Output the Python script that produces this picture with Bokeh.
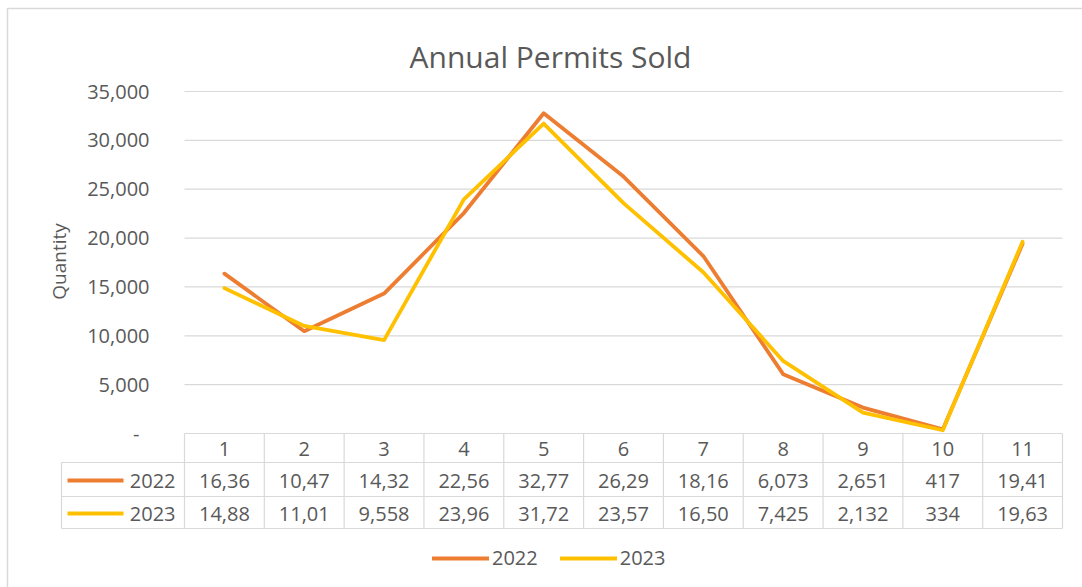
import math
from bokeh.plotting import figure
from bokeh.models import Range1d, Legend, LegendItem
from bokeh.core.properties import value
from bokeh.embed import file_html
from bokeh.resources import INLINE

# ---------------- data ----------------
categories = [1, 2, 3, 4, 5, 6, 7, 8, 9, 10, 11]
series_names = ["2022", "2023"]
permits_2022 = [16360, 10470, 14320, 22560, 32770, 26290, 18160, 6073, 2651, 417, 19410]
permits_2023 = [14880, 11010, 9558, 23960, 31720, 23570, 16500, 7425, 2132, 334, 19630]
y_ticks = [0, 5000, 10000, 15000, 20000, 25000, 30000, 35000]
title_text = "Annual Permits Sold"
y_title = "Quantity"

# ---------------- layout / style ----------------
W, H = 1082, 587
PLOT_LEFT, PLOT_RIGHT = 184, 1062      # px of plot area / table columns
PLOT_TOP, PLOT_BOTTOM = 91, 433        # px of top tick and zero
ROW_TOP = [433, 462, 496, 528]         # table row borders (px)
TABLE_LEFT = 61
FONT = value("Open Sans")
TXT = "#595959"
GRID = "#d9d9d9"
TABLE_LINE = "#d9d9d9"
COLORS = ["#ED7D31", "#FFC000"]
FS = "20px"

n = len(categories)
col_w = (PLOT_RIGHT - PLOT_LEFT) / n
x_start = 0.5 - PLOT_LEFT / col_w
x_end = 0.5 + (W - PLOT_LEFT) / col_w
upp = y_ticks[-1] / (PLOT_BOTTOM - PLOT_TOP)
y_end = PLOT_BOTTOM * upp
y_start = -(H - PLOT_BOTTOM) * upp


def px_to_x(px):
    return x_start + px / col_w


p = figure(width=W, height=H,
           x_range=Range1d(x_start, x_end), y_range=Range1d(y_start, y_end),
           x_axis_location=None, y_axis_location=None,
           output_backend="svg", toolbar_location=None, tools="",
           min_border=0)
p.outline_line_color = None
p.xgrid.grid_line_color = None
p.ygrid.grid_line_color = None
p.background_fill_color = "white"
p.border_fill_color = "white"
p.extra_x_ranges = {"px": Range1d(0, W)}
p.extra_y_ranges = {"px": Range1d(H, 0)}

# outer chart border
p.quad(left=[7], right=[W + 20], top=[8], bottom=[H + 20],
       fill_color=None, line_color=GRID, line_width=1.5,
       x_range_name="px", y_range_name="px")

# title
p.text(x=[550], y=[56], text=[title_text], text_font=FONT, text_font_size="30px",
       text_color=TXT, text_align="center", text_baseline="alphabetic",
       x_range_name="px", y_range_name="px")

# gridlines (non-zero ticks)
gt = [t for t in y_ticks if t > 0]
p.segment(x0=[0.5] * len(gt), x1=[n + 0.5] * len(gt), y0=gt, y1=gt,
          line_color=GRID, line_width=1.2)

# y tick labels
tick_text = [f"{t:,}" if t else "-" for t in y_ticks]
tick_x = [149 if t else 139 for t in y_ticks]
p.text(x=tick_x, y=y_ticks, text=tick_text, text_font=FONT, text_font_size=FS,
       text_color=TXT, text_align="right", text_baseline="middle",
       x_range_name="px")

# y axis title
p.text(x=[58], y=[261], text=[y_title], angle=math.pi / 2, text_font=FONT,
       text_font_size="19px", text_color=TXT, text_align="center", text_baseline="middle",
       x_range_name="px", y_range_name="px")

# series lines
renderers = []
for vals, col in zip([permits_2022, permits_2023], COLORS):
    r = p.line(categories, vals, line_color=col, line_width=3.8,
               line_join="round", line_cap="round")
    renderers.append(r)

# ---------------- data table ----------------
xl = px_to_x(TABLE_LEFT)
# horizontal borders
p.segment(x0=[0.5], x1=[n + 0.5], y0=[ROW_TOP[0]], y1=[ROW_TOP[0]],
          line_color=TABLE_LINE, line_width=1.2, y_range_name="px")
p.segment(x0=[xl] * 3, x1=[n + 0.5] * 3, y0=ROW_TOP[1:], y1=ROW_TOP[1:],
          line_color=TABLE_LINE, line_width=1.2, y_range_name="px")
# vertical borders
vx = [c - 0.5 for c in categories] + [n + 0.5]
p.segment(x0=vx, x1=vx, y0=[ROW_TOP[0]] * len(vx), y1=[ROW_TOP[-1]] * len(vx),
          line_color=TABLE_LINE, line_width=1.2, y_range_name="px")
p.segment(x0=[xl], x1=[xl], y0=[ROW_TOP[1]], y1=[ROW_TOP[-1]],
          line_color=TABLE_LINE, line_width=1.2, y_range_name="px")

row_mid = [(ROW_TOP[i] + ROW_TOP[i + 1]) / 2 + 1 for i in range(3)]
# header row
p.text(x=categories, y=[row_mid[0]] * n, text=[str(c) for c in categories],
       text_font=FONT, text_font_size=FS, text_color=TXT, text_align="center",
       text_baseline="middle", y_range_name="px")
# value rows
for k, (name, vals, col) in enumerate(zip(series_names, [permits_2022, permits_2023], COLORS)):
    ym = row_mid[k + 1]
    p.text(x=categories, y=[ym] * n, text=[f"{v:,}"[:5] for v in vals],
           text_font=FONT, text_font_size=FS, text_color=TXT, text_align="center",
           text_baseline="middle", y_range_name="px")
    p.segment(x0=[67], x1=[123], y0=[ym], y1=[ym], line_color=col, line_width=4,
              x_range_name="px", y_range_name="px")
    p.text(x=[175], y=[ym], text=[name], text_font=FONT, text_font_size=FS,
           text_color=TXT, text_align="right", text_baseline="middle",
           x_range_name="px", y_range_name="px")

# ---------------- legend ----------------
legend = Legend(items=[LegendItem(label=nm, renderers=[r]) for nm, r in zip(series_names, renderers)],
                orientation="horizontal", location=(432, 16),
                border_line_color=None, background_fill_alpha=0,
                padding=0, margin=0, spacing=22,
                glyph_width=57, glyph_height=24, label_standoff=3,
                label_text_font="Open Sans", label_text_font_size=FS,
                label_text_color=TXT, label_height=24)
p.add_layout(legend)

open("out.html", "w").write(file_html(p, INLINE))
